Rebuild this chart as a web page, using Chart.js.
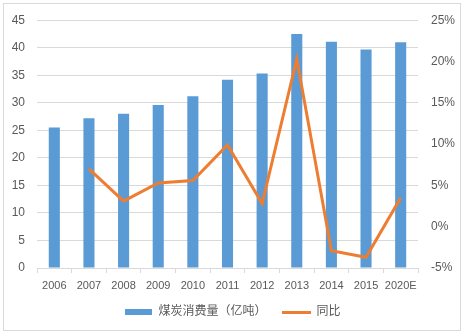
<!DOCTYPE html>
<html lang="zh">
<head>
    <meta charset="UTF-8">
    <title>煤炭消费量</title>
    <script src="https://cdn.jsdelivr.net/npm/chart.js"></script>
    <style>
        body { margin: 0; background: #fff; }
        #cadre {
            position: absolute;
            left: 3px; top: 3px;
            width: 456px; height: 326px;
            border: 1px solid #d9d9d9;
            pointer-events: none;
        }
        #graphique { position: absolute; left: 0; top: 0; }
    </style>
</head>
<body>
    <canvas id="graphique" width="465" height="334"></canvas>
    <div id="cadre"></div>

    <script>
        const annees = ['2006', '2007', '2008', '2009', '2010', '2011', '2012', '2013', '2014', '2015', '2020E'];
        // 煤炭消费量（亿吨）
        const consommation = [25.5, 27.2, 28.0, 29.6, 31.2, 34.2, 35.3, 42.5, 41.1, 39.7, 41.0];
        // 同比 (%)
        const variation = [null, 7.0, 3.1, 5.3, 5.6, 9.9, 2.8, 20.3, -2.9, -3.7, 3.5];

        const bleu = '#5B9BD5';
        const orange = '#ED7D31';
        const gris = '#595959';
        const police = "'Liberation Sans', 'Noto Sans CJK SC', sans-serif";

        // petits marqueurs de légende
        function marqueur(w, h, couleur) {
            const c = document.createElement('canvas');
            c.width = w; c.height = h;
            const g = c.getContext('2d');
            g.fillStyle = couleur;
            g.fillRect(0, 0, w, h);
            return c;
        }
        const mBleu = marqueur(27, 6, bleu);
        const mOrange = marqueur(29, 3, orange);

        const ctx = document.getElementById('graphique').getContext('2d');
        new Chart(ctx, {
            data: {
                labels: annees,
                datasets: [{
                    type: 'line',
                    label: '同比',
                    data: variation,
                    yAxisID: 'y2',
                    borderColor: orange,
                    backgroundColor: orange,
                    borderWidth: 3,
                    pointRadius: 0,
                    tension: 0,
                    pointStyle: mOrange,
                    order: 0
                }, {
                    type: 'bar',
                    label: '煤炭消费量（亿吨）',
                    data: consommation,
                    yAxisID: 'y',
                    backgroundColor: bleu,
                    categoryPercentage: 1,
                    barPercentage: 0.32,
                    pointStyle: mBleu,
                    order: 1
                }]
            },
            options: {
                responsive: false,
                animation: false,
                layout: { padding: { left: 0, right: 0, top: 19, bottom: 6 } },
                plugins: {
                    tooltip: { enabled: false },
                    legend: {
                        position: 'bottom',
                        reverse: true,
                        labels: {
                            usePointStyle: true,
                            pointStyleWidth: 28,
                            padding: 16,
                            color: gris,
                            font: { family: police, size: 12 }
                        }
                    }
                },
                scales: {
                    x: {
                        grid: {
                            offset: true,
                            drawOnChartArea: false,
                            drawTicks: true,
                            tickLength: 5,
                            color: '#d9d9d9'
                        },
                        border: { color: '#d9d9d9' },
                        ticks: {
                            color: gris,
                            font: { family: police, size: 11 },
                            padding: 6,
                            maxRotation: 0,
                            autoSkip: false
                        },
                        afterFit: s => { s.height = 22; }
                    },
                    y: {
                        position: 'left',
                        min: 0,
                        max: 45,
                        ticks: {
                            stepSize: 5,
                            color: gris,
                            padding: 12,
                            font: { family: police, size: 12 }
                        },
                        grid: { color: '#d9d9d9', drawTicks: false },
                        border: { display: false },
                        afterFit: s => { s.width = 37; }
                    },
                    y2: {
                        position: 'right',
                        min: -5,
                        max: 25,
                        ticks: {
                            stepSize: 5,
                            color: gris,
                            padding: 13,
                            font: { family: police, size: 12 },
                            callback: v => v + '%'
                        },
                        grid: { display: false, drawTicks: false },
                        border: { display: false },
                        afterFit: s => { s.width = 47; }
                    }
                }
            }
        });
    </script>
</body>
</html>
